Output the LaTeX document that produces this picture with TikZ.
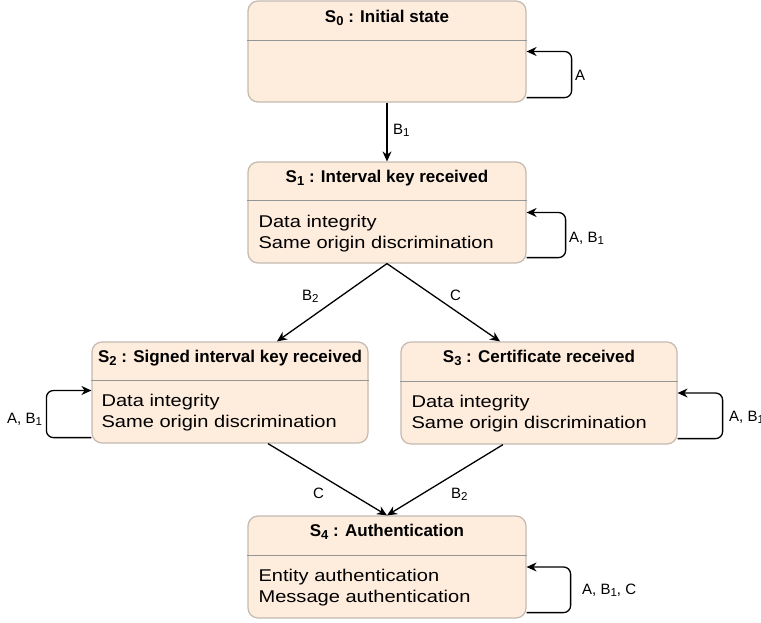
\documentclass[tikz,border=0pt]{standalone}
\usepackage{fontspec}
\setmainfont{Liberation Sans}
\newfontfamily\bodyfont[FakeStretch=1.18]{Liberation Sans}
\usetikzlibrary{arrows.meta,calc}
\definecolor{boxfill}{RGB}{254,236,221}
\definecolor{boxline}{RGB}{196,186,176}
\definecolor{divline}{RGB}{150,150,150}
\newcommand\tsub[1]{\raisebox{-3pt}{\fontsize{13}{13}\selectfont #1}}
\newcommand\lsub[1]{\raisebox{-2.7pt}{\fontsize{11.5}{12}\selectfont #1}}
\begin{document}
\begin{tikzpicture}[x=1pt,y=-1pt,
  state/.style={draw=boxline, fill=boxfill, rounded corners=10pt, line width=1.2pt, inner sep=0pt, minimum width=278pt, minimum height=101pt},
  title/.style={font=\fontsize{17}{20}\selectfont\bfseries, anchor=base, inner sep=0pt},
  body/.style={font=\bodyfont\fontsize{17}{21}\selectfont, anchor=base west, inner sep=0pt},
  lbl/.style={font=\fontsize{15}{18}\selectfont, inner sep=0pt, anchor=base west},
  divider/.style={draw=divline, line width=1.2pt},
  arr/.style={-{Stealth[length=10pt,width=9pt]}, line width=1.3pt},
  loop/.style={arr, rounded corners=7pt}]
\useasboundingbox (0,0) rectangle (761,622);

% states
\node[state] (s0) at (387,51.5) {};
\node[state] (s1) at (387,212.5) {};
\node[state, minimum width=276pt] (s2) at (230,392.5) {};
\node[state, minimum width=276pt, minimum height=102pt] (s3) at (539,393) {};
\node[state, minimum height=102pt] (s4) at (387,567) {};

% dividers
\foreach \s/\d in {s0/40, s1/39, s2/39, s3/40, s4/40}{
  \draw[divider] ($(\s.north west)+(0,\d)$) -- ($(\s.north east)+(0,\d)$);
}

% titles
\node[title] (t0) at ($(s0.north)+(0,22)$) {S\tsub{0} : Initial state};
\node[title] (t1) at ($(s1.north)+(0,21)$) {S\tsub{1} : Interval key received};
\node[title] (t2) at ($(s2.north)+(0,21)$) {S\tsub{2} : Signed interval key received};
\node[title] (t3) at ($(s3.north)+(0,21)$) {S\tsub{3} : Certificate received};
\node[title] (t4) at ($(s4.north)+(0,21)$) {S\tsub{4} : Authentication};

% bodies
\node[body] (b1a) at ($(s1.north west)+(11,66)$) {Data integrity};
\node[body] (b1b) at ($(s1.north west)+(11,87)$) {Same origin discrimination};
\node[body] (b2a) at ($(s2.north west)+(10,65)$) {Data integrity};
\node[body] (b2b) at ($(s2.north west)+(10,86)$) {Same origin discrimination};
\node[body] (b3a) at ($(s3.north west)+(11,66)$) {Data integrity};
\node[body] (b3b) at ($(s3.north west)+(11,87)$) {Same origin discrimination};
\node[body] (b4a) at ($(s4.north west)+(11,66)$) {Entity authentication};
\node[body] (b4b) at ($(s4.north west)+(11,87)$) {Message authentication};

% transitions
\draw[arr] (s0.south) -- (s1.north);
\draw[arr] (s1.south) -- ([xshift=47pt]s2.north);
\draw[arr] (s1.south) -- ([xshift=-39pt]s3.north);
\draw[arr] ([xshift=38pt]s2.south) -- (s4.north);
\draw[arr] ([xshift=-36pt]s3.south) -- (s4.north);
\node[lbl] (l01) at (393,134) {B\lsub{1}};
\node[lbl] (l12) at (302,300) {B\lsub{2}};
\node[lbl] (l13) at (450,300) {C};
\node[lbl] (l24) at (313,498) {C};
\node[lbl] (l34) at (451,498) {B\lsub{2}};

% self loops
\draw[loop] ([yshift=5pt]s0.south east) -- ++(45,0) |- (s0.east);
\node[lbl] (la0) at (575,80) {A};
\draw[loop] ([yshift=6pt]s1.south east) -- ++(39,0) |- (s1.east);
\node[lbl] (la1) at (569,242) {A, B\lsub{1}};
\draw[loop] ([yshift=6pt]s2.south west) -- ++(-45,0) |- ([yshift=2pt]s2.west);
\node[lbl] (la2) at (7,423) {A, B\lsub{1}};
\draw[loop] ([yshift=6pt]s3.south east) -- ++(45,0) |- (s3.east);
\node[lbl] (la3) at (729,421) {A, B\lsub{1}};
\draw[loop] ([yshift=6pt]s4.south east) -- ++(44,0) |- (s4.east);
\node[lbl] (la4) at (582,594) {A, B\lsub{1}, C};
\end{tikzpicture}
\end{document}
